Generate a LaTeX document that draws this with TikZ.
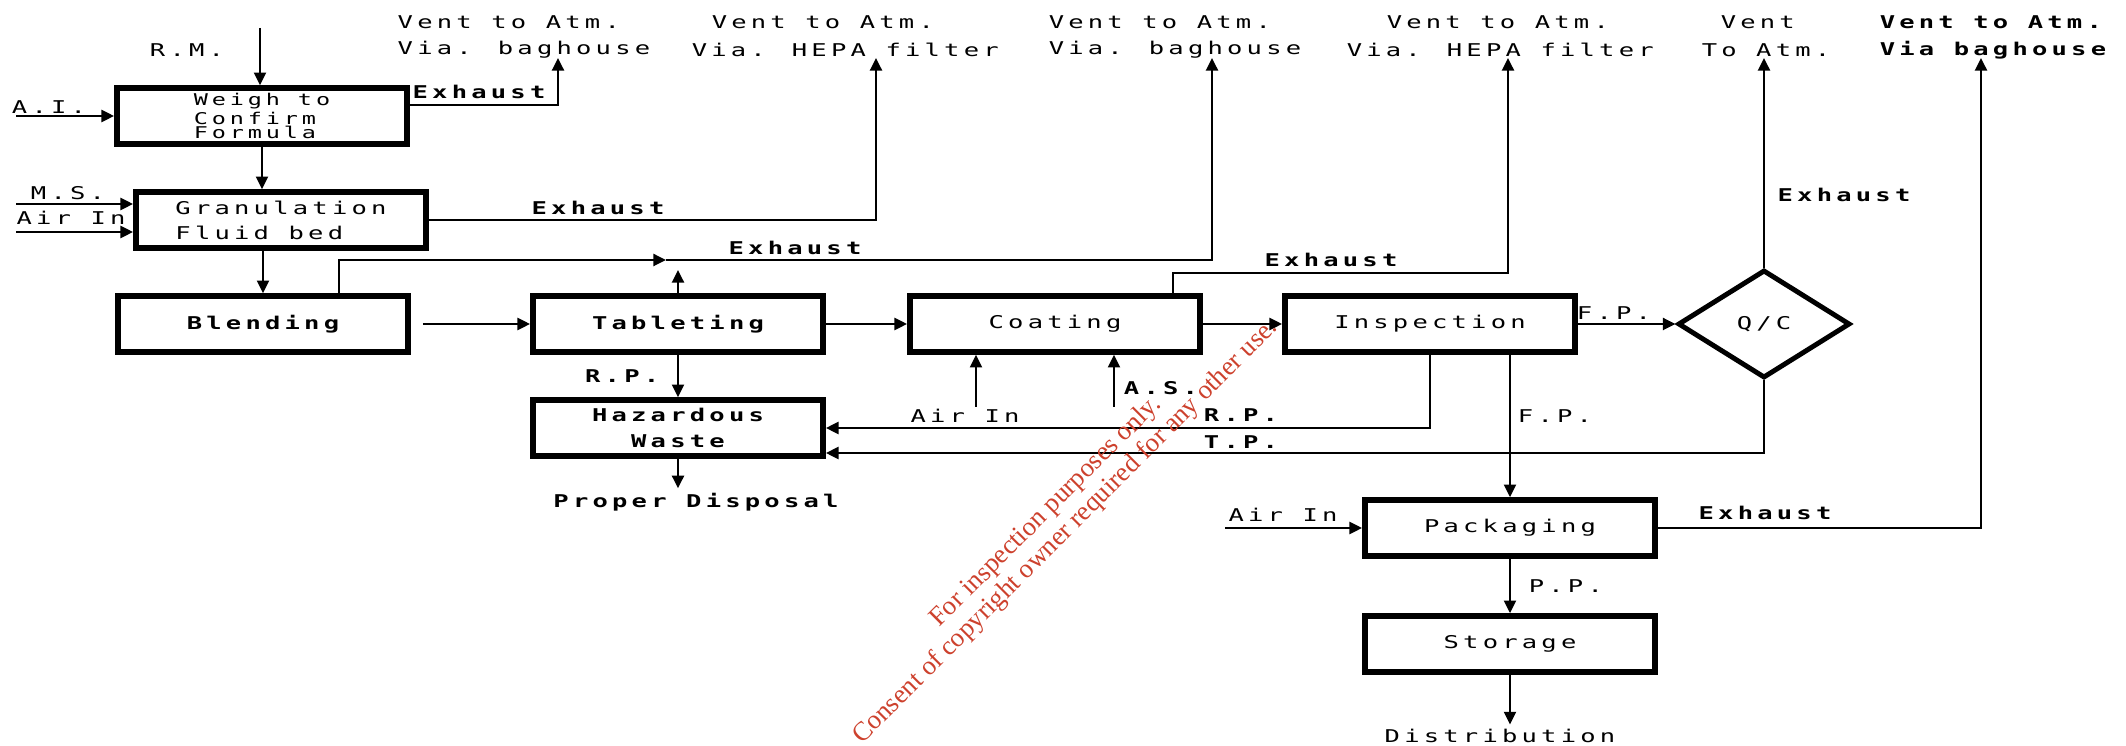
\documentclass[tikz,border=0pt]{standalone}
\usepackage{fontspec}
\usepackage{tikz}
\usetikzlibrary{arrows.meta, shapes.geometric, positioning, calc}

\newfontfamily\dotfont{DejaVu Sans Mono}[FakeStretch=1.45, LetterSpace=24]
\newfontfamily\marcafont{Liberation Serif}
\newcommand{\letra}{\dotfont\fontsize{5}{8}\selectfont}
\definecolor{rojomarca}{RGB}{205,65,45}

\begin{document}
\begin{tikzpicture}[
    x=0.01cm, y=-0.01cm,
    line width=0.7pt,
    ->,
    >={Triangle[length=3.6pt, width=3.4pt]}
]
    \tikzset{
        proceso/.style={rectangle, draw, line width=1.6pt, minimum width=2.9cm, minimum height=0.56cm, inner sep=0pt, font=\letra},
        decision/.style={diamond, draw, line width=1.4pt, minimum width=1.72cm, minimum height=1.08cm, inner sep=0pt, font=\letra},
        etiq/.style={inner sep=1pt, font=\letra},
        etiqb/.style={inner sep=1pt, font=\letra\bfseries}
    }
    \useasboundingbox (0,0) rectangle (2126,746);

    % Nodos
    \node[proceso, align=left, font=\dotfont\fontsize{4.6}{3.9}\selectfont] (pesar) at (262,116) {Weigh to\\Confirm\\Formula};
    \node[proceso, align=left, font=\dotfont\fontsize{5}{7.1}\selectfont] (gran) at (281,220) {Granulation\\Fluid bed};
    \node[proceso, font=\letra\bfseries] (mezcla) at (263,324) {Blending};
    \node[proceso, font=\letra\bfseries] (tab)    at (678,324) {Tableting};
    \node[proceso] (recub)  at (1055,324) {Coating};
    \node[proceso] (insp)   at (1430,324) {Inspection};
    \node[decision] (qc)    at (1764,324) {Q/C};
    \node[proceso, align=center, font=\dotfont\bfseries\fontsize{5}{7.4}\selectfont] (resid) at (678,428) {Hazardous\\Waste};
    \node[proceso] (emp)    at (1510,528) {Packaging};
    \node[proceso] (alm)    at (1510,644) {Storage};

    % Salidas a la atmosfera
    \node[etiq, anchor=west] (v1a) at (393,22) {Vent to Atm.};
    \node[etiq, anchor=west] (v1b) at (393,50) {Via. baghouse};
    \node[etiq, anchor=west] (v2a) at (707,22) {Vent to Atm.};
    \node[etiq, anchor=west] (v2b) at (687,50) {Via. HEPA filter};
    \node[etiq, anchor=west] (v3a) at (1044,22) {Vent to Atm.};
    \node[etiq, anchor=west] (v3b) at (1044,50) {Via. baghouse};
    \node[etiq, anchor=west] (v4a) at (1382,22) {Vent to Atm.};
    \node[etiq, anchor=west] (v4b) at (1342,50) {Via. HEPA filter};
    \node[etiq, anchor=west] (v5a) at (1716,22) {Vent};
    \node[etiq, anchor=west] (v5b) at (1697,50) {To Atm.};
    \node[etiqb, anchor=west] (v6a) at (1875,22) {Vent to Atm.};
    \node[etiqb, anchor=west] (v6b) at (1875,50) {Via baghouse};

    \coordinate (s1) at (558,58);
    \coordinate (s2) at (876,58);
    \coordinate (s3) at (1212,58);
    \coordinate (s4) at (1508,58);
    \coordinate (s5) at (1764,58);
    \coordinate (s6) at (1981,58);

    % Entradas
    \node[etiq] (rmtxt) at (187,50) {R.M.};
    \node[etiq] (aitxt) at (49,107) {A.I.};
    \node[etiq] (mstxt) at (68,193) {M.S.};
    \node[etiq] (airtxt) at (71,218) {Air In};
    \coordinate (rm) at (260,28);
    \coordinate (ai) at (16,116);
    \coordinate (ms) at (16,204);
    \coordinate (aire) at (16,232);
    \coordinate (a1) at (976,407);
    \coordinate (a2) at (1114,407);
    \coordinate (aire2) at (1225,528);
    \coordinate (m1) at (666,260);
    \coordinate (r1) at (1508,273);

    % Otras etiquetas
    \node[etiqb] (ex1) at (479,92)   {Exhaust};
    \node[etiqb] (ex2) at (598,208)  {Exhaust};
    \node[etiqb] (ex3) at (795,248)  {Exhaust};
    \node[etiqb] (ex4) at (1331,260) {Exhaust};
    \node[etiqb] (ex5) at (1844,195) {Exhaust};
    \node[etiqb] (ex6) at (1765,513) {Exhaust};
    \node[etiqb] (disp) at (696,502) {Proper Disposal};
    \node[etiq]  (airc) at (965,416) {Air In};
    \node[etiqb] (as)   at (1161,388) {A.S.};
    \node[etiqb] (rp)   at (1241,415) {R.P.};
    \node[etiqb] (tp)   at (1241,442) {T.P.};
    \node[etiq]  (fp)   at (1555,416) {F.P.};
    \node[etiq]  (airp) at (1283,515) {Air In};
    \node[etiq]  (dist) at (1500,736) {Distribution};

    % Conexiones
    \draw (rm) -- (rm |- pesar.north);
    \draw (ai) -- (pesar.west);
    \draw (pesar.south) -- (pesar.south |- gran.north);
    \draw (ms) -- (ms -| gran.west);
    \draw (aire) -- (aire -| gran.west);
    \draw (gran.south -| mezcla.north) -- (mezcla.north);
    \draw ([yshift=0.11cm]pesar.east) -| (s1);
    \draw (gran.east) -| (s2);
    \draw ([xshift=0.76cm]mezcla.north) |- (m1);
    \draw (m1) -| (s3);
    \draw[shorten >=0.1cm] (tab.north) -- (tab.north |- m1);
    \draw[shorten <=0.12cm] (mezcla) -- (tab);
    \draw (tab) -- (recub);
    \draw (recub) -- (insp);
    \draw (insp) -- node[etiq, pos=0.37, above] {F.P.} (qc);
    \draw ([xshift=1.18cm]recub.north) |- (r1) -- (s4);
    \draw (qc.north) -- (s5);
    \draw (tab) -- node[etiqb, left=4pt] {R.P.} (resid);
    \draw (resid.south) -- (resid.south |- disp.north);
    \draw (a1) -- (a1 |- recub.south);
    \draw (a2) -- (a2 |- recub.south);
    \draw (insp.south) |- (resid.east);
    \draw (qc.south) |- ([yshift=-0.25cm]resid.east);
    \draw (insp.south -| emp.north) -- (emp.north);
    \draw (aire2) -- (emp.west);
    \draw (emp.east) -| (s6);
    \draw (emp) -- node[etiq, right=4pt] {P.P.} (alm);
    \draw (alm.south) -- (alm.south |- dist.north);

    % Marca de agua
    \node[rotate=45, text=rojomarca, align=center, font=\marcafont\fontsize{7.6}{8}\selectfont] (marca) at (1056,522)
        {For inspection purposes only.\\Consent of copyright owner required for any other use.};
\end{tikzpicture}
\end{document}
